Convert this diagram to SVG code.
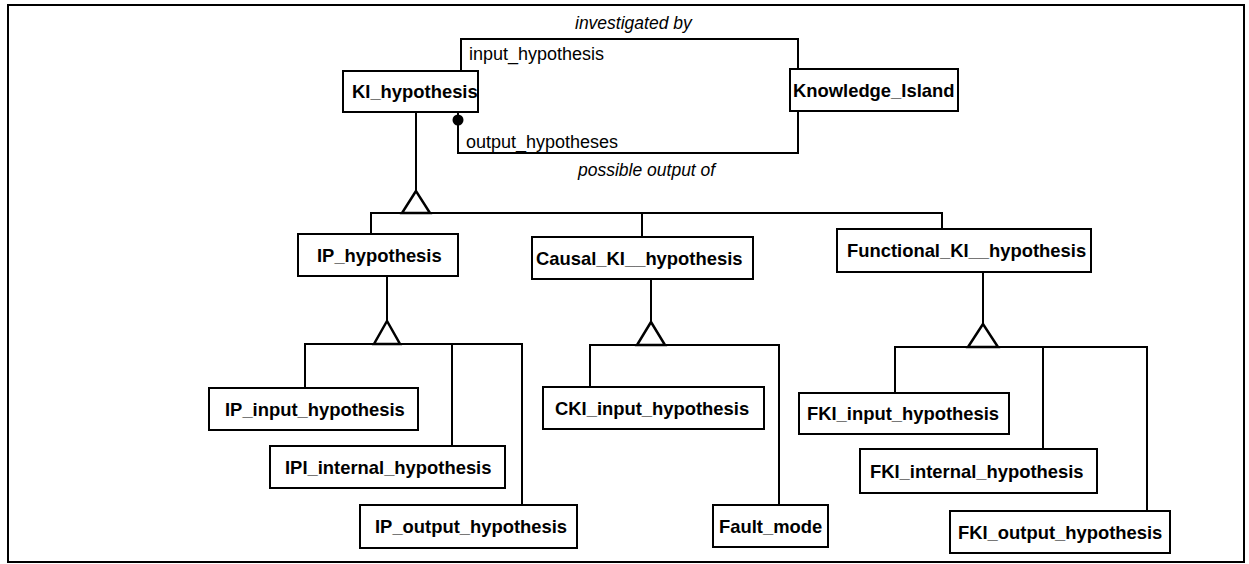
<svg xmlns="http://www.w3.org/2000/svg" width="1249" height="564" viewBox="0 0 1249 564">
<style>
  .box{fill:#fff;stroke:#000;stroke-width:2}
  .lbl{font-family:"Liberation Sans",Arial,sans-serif;font-weight:bold;font-size:18.4px;fill:#000}
  .rl{font-family:"Liberation Sans",Arial,sans-serif;font-size:18px;fill:#000}
  .it{font-family:"Liberation Sans",Arial,sans-serif;font-style:italic;font-size:17.5px;fill:#000}
  .ln{fill:none;stroke:#000;stroke-width:2}
  .tri{fill:#fff;stroke:#000;stroke-width:2.5;stroke-linejoin:miter}
</style>
<rect x="0" y="0" width="1249" height="564" fill="#fff"/>
<rect x="8" y="5" width="1236" height="557" fill="none" stroke="#000" stroke-width="2"/>

<g id="connectors">
  <polyline class="ln" points="461,71 461,39 798,39 798,69"/>
  <polyline class="ln" points="458,112 458,153 798,153 798,111"/>
  <circle cx="458" cy="120" r="5.5" fill="#000"/>
  <text class="it" x="575" y="29">investigated by</text>
  <text class="rl" x="469" y="60">input_hypothesis</text>
  <text class="rl" x="466" y="148">output_hypotheses</text>
  <text class="it" x="578" y="176">possible output of</text>

  <line class="ln" x1="416" y1="112" x2="416" y2="191"/>
  <polygon class="tri" points="416,191 402,213 430,213"/>
  <polyline class="ln" points="371,234 371,213 942,213 942,229"/>
  <line class="ln" x1="642" y1="213" x2="642" y2="237"/>

  <line class="ln" x1="387" y1="276" x2="387" y2="321"/>
  <polygon class="tri" points="387,321 374,344 400,344"/>
  <polyline class="ln" points="305,388 305,344 522,344 522,505"/>
  <line class="ln" x1="452" y1="344" x2="452" y2="446"/>

  <line class="ln" x1="651" y1="279" x2="651" y2="322"/>
  <polygon class="tri" points="651,322 637,345 665,345"/>
  <polyline class="ln" points="590,387 590,345 779,345 779,505"/>

  <line class="ln" x1="983" y1="272" x2="983" y2="324"/>
  <polygon class="tri" points="983,324 968,347 998,347"/>
  <polyline class="ln" points="895,393 895,347 1147,347 1147,511"/>
  <line class="ln" x1="1043" y1="347" x2="1043" y2="449"/>
</g>

<g id="KI_hypothesis"><rect class="box" x="343" y="71" width="135" height="41"/><text class="lbl" x="352" y="98">KI_hypothesis</text></g>
<g id="Knowledge_Island"><rect class="box" x="790" y="69" width="168" height="42"/><text class="lbl" x="793" y="97">Knowledge_Island</text></g>
<g id="IP_hypothesis"><rect class="box" x="298" y="234" width="160" height="42"/><text class="lbl" x="317" y="262">IP_hypothesis</text></g>
<g id="Causal_KI_hypothesis"><rect class="box" x="532" y="237" width="221" height="42"/><text class="lbl" x="536" y="265">Causal_KI__hypothesis</text></g>
<g id="Functional_KI_hypothesis"><rect class="box" x="837" y="229" width="254" height="43"/><text class="lbl" x="847" y="257">Functional_KI__hypothesis</text></g>
<g id="IP_input_hypothesis"><rect class="box" x="209" y="388" width="209" height="42"/><text class="lbl" x="225" y="416">IP_input_hypothesis</text></g>
<g id="IPI_internal_hypothesis"><rect class="box" x="270" y="446" width="235" height="42"/><text class="lbl" x="285" y="474">IPI_internal_hypothesis</text></g>
<g id="IP_output_hypothesis"><rect class="box" x="360" y="505" width="217" height="43"/><text class="lbl" x="375" y="533">IP_output_hypothesis</text></g>
<g id="CKI_input_hypothesis"><rect class="box" x="543" y="387" width="221" height="42"/><text class="lbl" x="555" y="415">CKI_input_hypothesis</text></g>
<g id="Fault_mode"><rect class="box" x="713" y="505" width="115" height="42"/><text class="lbl" x="719" y="533">Fault_mode</text></g>
<g id="FKI_input_hypothesis"><rect class="box" x="799" y="393" width="210" height="41"/><text class="lbl" x="807" y="420">FKI_input_hypothesis</text></g>
<g id="FKI_internal_hypothesis"><rect class="box" x="860" y="449" width="237" height="44"/><text class="lbl" x="870" y="478">FKI_internal_hypothesis</text></g>
<g id="FKI_output_hypothesis"><rect class="box" x="950" y="511" width="220" height="42"/><text class="lbl" x="958" y="539">FKI_output_hypothesis</text></g>
</svg>
